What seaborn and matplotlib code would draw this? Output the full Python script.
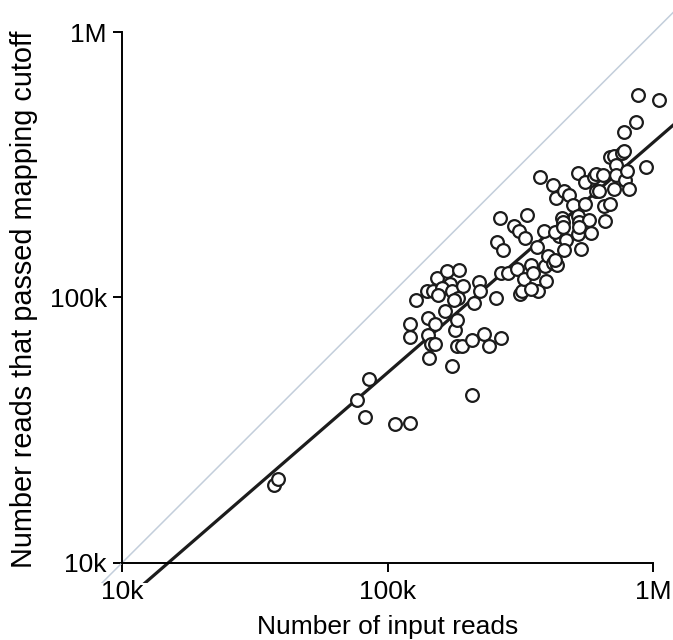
import numpy as np
import pandas as pd
import seaborn as sns
import matplotlib
matplotlib.use("Agg")
import matplotlib.pyplot as plt
from matplotlib.ticker import NullLocator

# reads per sample, in thousands
input_reads_k = [
    37.4, 38.6, 76.5, 84.7, 81.8, 106.1, 121.2, 207.7, 174.4, 143.4,
    121.2, 121.2, 127.9, 140.6, 148.5, 153.2, 167.4, 184.7, 171.2, 159.7,
    174.4, 192.5, 183.5, 177.3, 154.7, 163.8, 141.6, 150.8, 141.6, 145.2,
    150.8, 178.9, 182.4, 182.4, 190.7, 208.4, 211.7, 220.6, 222.7, 231.3,
    239.5, 256.1, 266.0, 257.7, 271.1, 265.1, 266.8, 282.5, 299.1, 312.7,
    305.8, 327.9, 334.2, 315.7, 319.7, 325.8, 347.1, 353.8, 366.4, 365.2,
    387.9, 395.3, 390.3, 401.6, 419.8, 434.7, 374.5, 419.8, 430.6, 461.7,
    479.6, 451.5, 458.8, 440.2, 470.6, 461.7, 496.6, 519.2, 519.2, 524.1,
    520.9, 535.9, 551.5, 551.5, 572.8, 583.8, 596.9, 610.2, 608.3, 622.0,
    658.4, 652.2, 684.0, 644.1, 686.2, 708.3, 721.9, 759.4, 776.4, 724.2,
    708.3, 784.0, 811.8, 774.0, 859.6, 878.8, 1053.0, 936.3, 794.0, 427.0,
    456.0, 346.0, 427.0, 524.0,
]
mapped_reads_k = [
    19.7, 20.7, 41.1, 49.2, 35.3, 33.3, 33.6, 43.0, 55.1, 59.2,
    70.9, 79.1, 97.9, 106.2, 105.8, 118.1, 125.4, 126.4, 112.8, 108.8,
    106.2, 110.8, 99.6, 97.9, 102.5, 88.9, 84.0, 79.1, 72.1, 66.7,
    66.7, 75.5, 82.5, 65.6, 65.6, 69.2, 95.1, 114.8, 106.2, 72.9,
    65.6, 99.3, 70.6, 161.3, 150.8, 198.8, 124.1, 124.1, 185.2, 178.8,
    127.7, 168.3, 203.8, 103.2, 106.2, 117.7, 132.2, 124.1, 106.2, 155.1,
    178.8, 115.6, 131.3, 143.5, 134.6, 132.2, 283.4, 265.9, 237.4, 251.2,
    243.3, 198.8, 191.9, 170.7, 165.4, 151.3, 222.7, 295.7, 202.4, 191.9,
    173.1, 152.4, 271.6, 225.1, 195.3, 174.4, 285.4, 291.5, 252.1, 252.1,
    193.9, 221.1, 225.1, 290.5, 338.2, 340.7, 315.1, 351.7, 356.7, 288.5,
    257.5, 277.4, 256.6, 420.0, 460.5, 579.9, 555.7, 310.7, 300.6, 177.0,
    185.0, 108.0, 138.5, 185.0,
]

# log10 regression line
fit_slope = 0.868
fit_intercept = 0.377

tick_values = [1e4, 1e5, 1e6]
tick_labels = ["10k", "100k", "1M"]

df = pd.DataFrame({
    "input": np.array(input_reads_k) * 1000,
    "mapped": np.array(mapped_reads_k) * 1000,
})

sns.set_theme(style="white")
plt.rcParams["font.family"] = ["Liberation Sans", "DejaVu Sans"]

fig = plt.figure(figsize=(6.73, 6.4), dpi=100)
ax = fig.add_axes([100 / 673, 56.7 / 640, 573 / 673, 583.3 / 640])
ax.set_xscale("log")
ax.set_yscale("log")
ax.set_xlim(10 ** 3.916, 10 ** 6.0742)
ax.set_ylim(10 ** 3.922, 10 ** 6.1218)

# y = x reference and the fitted line
line_x = np.logspace(3.8, 6.4, 50)
ax.plot(line_x, line_x, color="#c3cedb", lw=1.1, zorder=1)
ax.plot(line_x, 10 ** fit_intercept * line_x ** fit_slope,
        color="#1c1c1c", lw=2.3, zorder=2)

sns.scatterplot(data=df, x="input", y="mapped", ax=ax, s=84,
                facecolor="white", edgecolor="#1c1c1c", linewidth=1.6,
                zorder=3)

for side in ["top", "right"]:
    ax.spines[side].set_visible(False)
for side in ["left", "bottom"]:
    ax.spines[side].set_position(("data", 1e4))
    ax.spines[side].set_bounds(1e4, 1e6)
    ax.spines[side].set_color("black")
    ax.spines[side].set_linewidth(1.4)

ax.set_xticks(tick_values)
ax.set_xticklabels(tick_labels)
ax.set_yticks(tick_values)
ax.set_yticklabels(tick_labels)
ax.xaxis.set_minor_locator(NullLocator())
ax.yaxis.set_minor_locator(NullLocator())
ax.tick_params(axis="both", which="major", direction="out", length=6.7,
               width=1.4, color="black", labelsize=19, labelcolor="black",
               bottom=True, left=True)
ax.tick_params(axis="x", pad=5.5)
ax.tick_params(axis="y", pad=4.5)

ax.set_xlabel("Number of input reads", fontsize=19, color="black")
ax.set_ylabel("Number reads that passed mapping cutoff", fontsize=20.8,
              color="black")
ax.xaxis.label.set_va("center")
ax.yaxis.label.set_va("center")
ax.xaxis.set_label_coords(0.502, -0.0749)
ax.yaxis.set_label_coords(-0.133, 0.487)

fig.savefig("out.png", dpi=100)
